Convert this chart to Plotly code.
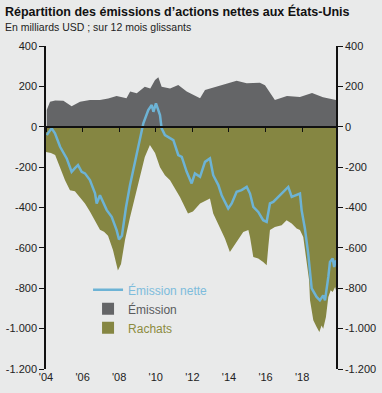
import plotly.graph_objects as go

# ---- data (decimal years, billions USD) ----
emi_x = [2004.04, 2004.22, 2004.50, 2004.95, 2005.40, 2005.86, 2006.40, 2006.95, 2007.40, 2007.86,
         2008.40, 2008.60, 2008.96, 2009.40, 2009.70, 2009.96, 2010.14, 2010.32, 2010.78, 2011.23,
         2011.69, 2012.05, 2012.42, 2012.69, 2013.33, 2013.87, 2014.42, 2014.97, 2015.69, 2015.97,
         2016.24, 2016.51, 2017.17, 2017.88, 2018.54, 2019.14, 2019.85]
emi_y = [83, 124, 130, 129, 102, 124, 132, 132, 140, 152,
         141, 174, 166, 198, 190, 232, 245, 198, 190, 207,
         174, 157, 141, 182, 198, 215, 228, 215, 218, 206,
         167, 132, 152, 147, 167, 146, 132]

rach_x = [2004.00, 2004.27, 2004.50, 2004.77, 2005.04, 2005.31, 2005.58, 2005.86, 2006.13, 2006.40,
          2006.68, 2006.95, 2007.17, 2007.39, 2007.66, 2007.93, 2008.10, 2008.32, 2008.59, 2008.92,
          2009.14, 2009.40, 2009.68, 2009.96, 2010.23, 2010.50, 2010.78, 2011.05, 2011.32, 2011.76,
          2012.03, 2012.42, 2012.96, 2013.14, 2013.50, 2013.78, 2014.05, 2014.24, 2014.51, 2014.78,
          2015.06, 2015.15, 2015.33, 2015.60, 2015.87, 2016.06, 2016.15, 2016.24, 2016.51, 2016.88,
          2017.15, 2017.43, 2017.70, 2017.88, 2018.06, 2018.24, 2018.38, 2018.43, 2018.61, 2018.79,
          2018.94, 2019.06, 2019.15, 2019.30, 2019.43, 2019.56, 2019.67, 2019.80, 2019.85]
rach_y = [-125, -130, -140, -200, -265, -315, -320, -350, -380, -420,
          -470, -510, -520, -540, -610, -712, -680, -560, -450, -330,
          -240, -150, -90, -130, -200, -240, -265, -310, -348, -430,
          -420, -380, -355, -430, -496, -554, -620, -595, -554, -521,
          -512, -546, -645, -653, -670, -686, -595, -512, -496, -488,
          -463, -479, -504, -512, -546, -661, -760, -860, -959, -992,
          -1017, -984, -1000, -942, -843, -810, -818, -794, -810]

net_x = [2004.04, 2004.31, 2004.49, 2004.77, 2005.13, 2005.40, 2005.58, 2005.75, 2005.95, 2006.13,
         2006.40, 2006.68, 2006.77, 2006.95, 2007.32, 2007.59, 2007.86, 2007.99, 2008.15, 2008.37,
         2008.59, 2008.96, 2009.32, 2009.59, 2009.78, 2009.87, 2010.01, 2010.23, 2010.32, 2010.50,
         2010.78, 2010.96, 2011.23, 2011.42, 2011.69, 2011.96, 2012.14, 2012.42, 2012.69, 2012.96,
         2013.14, 2013.42, 2013.60, 2013.96, 2014.15, 2014.42, 2014.69, 2014.97, 2015.15, 2015.33,
         2015.60, 2015.87, 2016.06, 2016.24, 2016.42, 2016.69, 2016.88, 2017.24, 2017.43, 2017.70,
         2017.88, 2017.97, 2018.15, 2018.33, 2018.43, 2018.52, 2018.79, 2018.97, 2019.15, 2019.25,
         2019.43, 2019.52, 2019.67, 2019.75, 2019.85]
net_y = [-41, -8, -32, -99, -157, -223, -205, -190, -223, -231,
         -264, -330, -380, -339, -413, -446, -512, -558, -540, -400,
         -290, -131, 17, 83, 108, 74, 116, 58, -8, -41,
         -58, -66, -140, -149, -223, -281, -231, -248, -174, -157,
         -240, -289, -339, -405, -380, -322, -314, -298, -331, -397,
         -422, -463, -471, -380, -372, -347, -331, -298, -347, -339,
         -331, -413, -504, -628, -727, -800, -843, -860, -835, -860,
         -744, -670, -653, -695, -661]

x_ticks = [2004, 2006, 2008, 2010, 2012, 2014, 2016, 2018]
x_labels = ["'04", "'06", "'08", "'10", "'12", "'14", "'16", "'18"]
y_ticks = [400, 200, 0, -200, -400, -600, -800, -1000, -1200]
y_labels = ["400", "200", "0", "-200", "-400", "-600", "-800", "-1.000", "-1.200"]

X_RANGE = [2004.0, 2019.85]
Y_RANGE = [-1200, 400]

C_EMI = "#646567"
C_RACH = "#858642"
C_NET = "#6db3d5"
BG = "#e9eaea"
FONT = "Liberation Sans, Arial, sans-serif"

fig = go.Figure()

fig.add_trace(go.Scatter(x=rach_x, y=rach_y, mode="lines", fill="tozeroy",
                         line=dict(width=0, color=C_RACH), fillcolor=C_RACH,
                         showlegend=False, hoverinfo="skip"))
fig.add_trace(go.Scatter(x=emi_x, y=emi_y, mode="lines", fill="tozeroy",
                         line=dict(width=0, color=C_EMI), fillcolor=C_EMI,
                         showlegend=False, hoverinfo="skip"))
fig.add_trace(go.Scatter(x=net_x, y=net_y, mode="lines",
                         line=dict(width=2.5, color=C_NET),
                         name='<span style="color:#7dbcdc">Émission nette</span>'))
fig.add_trace(go.Scatter(x=[None], y=[None], mode="markers",
                         marker=dict(symbol="square", size=12, color=C_EMI),
                         name='<span style="color:#5a5b5d">Émission</span>'))
fig.add_trace(go.Scatter(x=[None], y=[None], mode="markers",
                         marker=dict(symbol="square", size=12, color=C_RACH),
                         name='<span style="color:#8c8c3e">Rachats</span>'))
# helper trace so the secondary axes (zero-line ticks, right axis) are drawn
fig.add_trace(go.Scatter(x=[X_RANGE[0]], y=[0], xaxis="x2", yaxis="y2", mode="lines",
                         line=dict(width=0), showlegend=False, hoverinfo="skip"))

zero_pos = (0 - Y_RANGE[0]) / (Y_RANGE[1] - Y_RANGE[0])

fig.update_layout(
    width=382, height=393,
    margin=dict(l=46, r=46, t=46, b=24, autoexpand=False),
    paper_bgcolor=BG, plot_bgcolor=BG,
    font=dict(family=FONT, size=11, color="#222222"),
    showlegend=True,
    legend=dict(x=0.145, y=0.29, xanchor="left", yanchor="top",
                bgcolor="rgba(0,0,0,0)", font=dict(size=12, family=FONT),
                tracegroupgap=0, itemwidth=30),
    xaxis=dict(range=X_RANGE, tickvals=x_ticks, ticktext=x_labels, automargin=False,
               showgrid=False, zeroline=False, showline=False, ticks="",
               tickfont=dict(size=11, color="#222222")),
    xaxis2=dict(range=X_RANGE, overlaying="x", anchor="free", position=zero_pos,
                tickvals=x_ticks, showticklabels=False, ticks="outside", ticklen=4,
                tickcolor="#111111", tickwidth=1, showline=True, linecolor="#111111",
                linewidth=1.5, showgrid=False, zeroline=False, automargin=False),
    yaxis=dict(range=Y_RANGE, tickvals=y_ticks, ticktext=y_labels, automargin=False,
               showgrid=False, zeroline=False, showline=True, linecolor="#111111",
               linewidth=1.5, ticks="outside", ticklen=5, tickcolor="#111111",
               tickfont=dict(size=11, color="#222222")),
    yaxis2=dict(range=Y_RANGE, overlaying="y", side="right", anchor="x",
                tickvals=y_ticks, ticktext=y_labels, automargin=False,
                showgrid=False, zeroline=False, showline=True, linecolor="#111111",
                linewidth=1.5, ticks="outside", ticklen=5, tickcolor="#111111",
                tickfont=dict(size=11, color="#222222")),
    annotations=[
        dict(text="<b>Répartition des émissions d’actions nettes aux États-Unis</b>",
             xref="paper", yref="paper", x=-43/290, y=(369-12)/323,
             xanchor="left", yanchor="middle", showarrow=False,
             font=dict(size=12.5, color="#111111", family=FONT)),
        dict(text="En milliards USD ; sur 12 mois glissants",
             xref="paper", yref="paper", x=-43/290, y=(369-27)/323,
             xanchor="left", yanchor="middle", showarrow=False,
             font=dict(size=10.5, color="#222222", family=FONT)),
    ],
)

fig.write_html("out.html", config={"displayModeBar": False},
               post_script="document.body.style.margin='0';document.body.style.background='%s';" % BG)
